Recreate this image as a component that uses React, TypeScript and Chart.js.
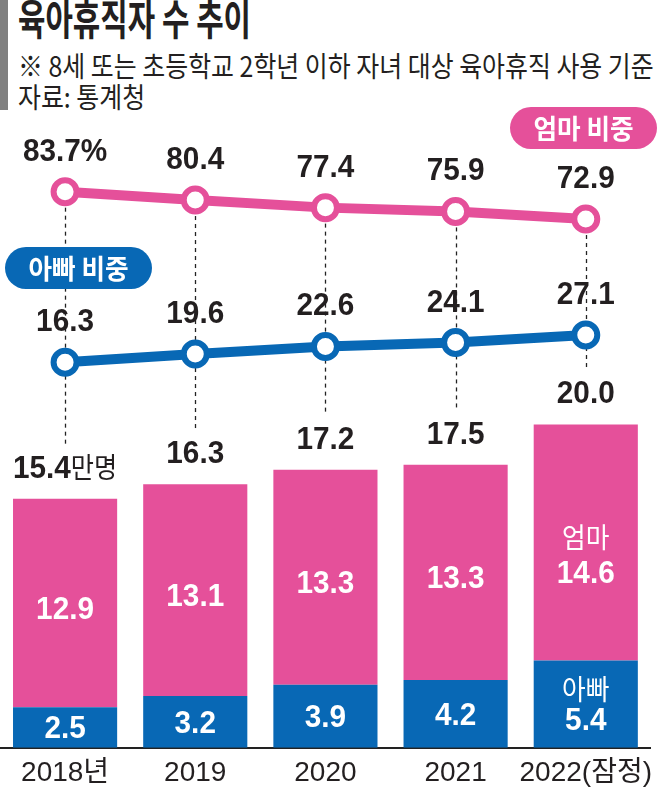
import React, { useEffect, useRef } from "react";
import { Chart, registerables } from "chart.js";

Chart.register(...registerables);

const years = ["2018년", "2019", "2020", "2021", "2022(잠정)"];
const momCount = [12.9, 13.1, 13.3, 13.3, 14.6];
const dadCount = [2.5, 3.2, 3.9, 4.2, 5.4];
const totalCount = [15.4, 16.3, 17.2, 17.5, 20.0];
const momShare = [83.7, 80.4, 77.4, 75.9, 72.9];
const dadShare = [16.3, 19.6, 22.6, 24.1, 27.1];

const PINK = "#e5509a";
const BLUE = "#0868b5";
const INK = "#231f20";
const NUM_FONT = "'Liberation Sans', 'Noto Sans CJK KR', sans-serif";
const KR_FONT = "'Noto Sans CJK KR', sans-serif";

function drawText(
  ctx: CanvasRenderingContext2D,
  text: string,
  x: number,
  y: number,
  font: string,
  color: string,
  sx = 1,
  baseline: CanvasTextBaseline = "alphabetic"
) {
  ctx.save();
  ctx.font = font;
  ctx.fillStyle = color;
  ctx.textAlign = "center";
  ctx.textBaseline = baseline;
  ctx.translate(x, y);
  ctx.scale(sx, 1);
  ctx.fillText(text, 0, 0);
  ctx.restore();
}

function pill(ctx: CanvasRenderingContext2D, x: number, y: number, w: number, h: number, color: string, text: string) {
  ctx.save();
  ctx.fillStyle = color;
  ctx.beginPath();
  ctx.roundRect(x, y, w, h, h / 2);
  ctx.fill();
  ctx.restore();
  drawText(ctx, text, x + w / 2, y + h / 2 + 1, `bold 27px ${KR_FONT}`, "#ffffff", 0.95, "middle");
}

const labelPlugin = {
  id: "customLabels",
  beforeDatasetsDraw(chart: any) {
    const ctx = chart.ctx as CanvasRenderingContext2D;
    const yScale = chart.scales.y;
    const momMeta = chart.getDatasetMeta(2);
    ctx.save();
    ctx.setLineDash([4, 4]);
    ctx.strokeStyle = "#222";
    ctx.lineWidth = 1.3;
    momMeta.data.forEach((pt: any, i: number) => {
      const endY = yScale.getPixelForValue(totalCount[i]) - 55;
      ctx.beginPath();
      ctx.moveTo(Math.round(pt.x) + 0.5, pt.y);
      ctx.lineTo(Math.round(pt.x) + 0.5, endY);
      ctx.stroke();
    });
    ctx.restore();
  },
  afterDatasetsDraw(chart: any) {
    const ctx = chart.ctx as CanvasRenderingContext2D;
    const yScale = chart.scales.y;
    const xScale = chart.scales.x;
    const numBold = `bold 32px ${NUM_FONT}`;
    const last = years.length - 1;

    const momMeta = chart.getDatasetMeta(2);
    const dadMeta = chart.getDatasetMeta(3);
    momMeta.data.forEach((pt: any, i: number) => {
      const t = momShare[i].toFixed(1) + (i === 0 ? "%" : "");
      drawText(ctx, t, pt.x, pt.y - 31, numBold, INK, 0.93);
    });
    dadMeta.data.forEach((pt: any, i: number) => {
      drawText(ctx, dadShare[i].toFixed(1), pt.x, pt.y - 31, numBold, INK, 0.93);
    });

    years.forEach((_, i) => {
      const cx = xScale.getPixelForValue(i);
      const top = yScale.getPixelForValue(totalCount[i]);
      const num = totalCount[i].toFixed(1);
      if (i === 0) {
        const unit = "만명";
        ctx.save();
        ctx.font = numBold;
        const w1 = ctx.measureText(num).width * 0.93;
        ctx.font = `28px ${KR_FONT}`;
        const w2 = ctx.measureText(unit).width * 0.9;
        ctx.restore();
        const left = cx - (w1 + w2) / 2;
        drawText(ctx, num, left + w1 / 2, top - 21, numBold, INK, 0.93);
        drawText(ctx, unit, left + w1 + w2 / 2, top - 21, `28px ${KR_FONT}`, INK, 0.9);
      } else {
        drawText(ctx, num, cx, top - 21, numBold, INK, 0.93);
      }

      const dadTop = yScale.getPixelForValue(dadCount[i]);
      const base = yScale.getPixelForValue(0);
      const momMid = (top + dadTop) / 2;
      const dadMid = (dadTop + base) / 2;
      if (i === last) {
        drawText(ctx, "엄마", cx, momMid - 5, `28px ${KR_FONT}`, "#fff", 0.92, "middle");
        drawText(ctx, momCount[i].toFixed(1), cx, momMid + 32, numBold, "#fff", 0.93, "middle");
        drawText(ctx, "아빠", cx, dadMid - 15, `28px ${KR_FONT}`, "#fff", 0.92, "middle");
        drawText(ctx, dadCount[i].toFixed(1), cx, dadMid + 17, numBold, "#fff", 0.93, "middle");
      } else {
        drawText(ctx, momCount[i].toFixed(1), cx, momMid + 7, numBold, "#fff", 0.93, "middle");
        drawText(ctx, dadCount[i].toFixed(1), cx, dadMid + 2, numBold, "#fff", 0.93, "middle");
      }
    });

    pill(ctx, 510, 107, 147, 42, PINK, "엄마 비중");
    pill(ctx, 5, 247, 147, 42, BLUE, "아빠 비중");
  },
};

export default function App() {
  const ref = useRef<HTMLCanvasElement | null>(null);

  useEffect(() => {
    if (!ref.current) return;
    const chart = new Chart(ref.current, {
      type: "bar",
      data: {
        labels: years,
        datasets: [
          {
            type: "bar",
            label: "아빠",
            data: dadCount,
            backgroundColor: BLUE,
            borderWidth: 0,
            yAxisID: "y",
            barPercentage: 0.8,
            categoryPercentage: 1,
            order: 2,
          },
          {
            type: "bar",
            label: "엄마",
            data: momCount,
            backgroundColor: PINK,
            borderWidth: 0,
            yAxisID: "y",
            barPercentage: 0.8,
            categoryPercentage: 1,
            order: 2,
          },
          {
            type: "line",
            label: "엄마 비중",
            data: momShare,
            yAxisID: "y2",
            borderColor: PINK,
            borderWidth: 10,
            pointRadius: 11.5,
            pointBorderWidth: 6,
            pointBackgroundColor: "#ffffff",
            pointBorderColor: PINK,
            tension: 0,
            order: 0,
          },
          {
            type: "line",
            label: "아빠 비중",
            data: dadShare,
            yAxisID: "y2",
            borderColor: BLUE,
            borderWidth: 10,
            pointRadius: 11.5,
            pointBorderWidth: 6,
            pointBackgroundColor: "#ffffff",
            pointBorderColor: BLUE,
            tension: 0,
            order: 0,
          },
        ] as any,
      },
      options: {
        responsive: false,
        animation: false,
        layout: { autoPadding: false, padding: { top: 100, bottom: -6.4, left: 0, right: 0 } },
        plugins: {
          legend: { display: false },
          tooltip: { enabled: false },
          title: { display: false },
        },
        scales: {
          x: {
            stacked: true,
            grid: { display: false, drawTicks: false, tickLength: 0 },
            border: { display: true, color: "#222", width: 2 },
            ticks: {
              color: INK,
              font: { family: NUM_FONT, size: 28 },
              padding: 9,
              maxRotation: 0,
              autoSkip: false,
            },
          },
          y: { display: false, stacked: true, min: 0, max: 40.06 },
          y2: { display: false, min: -135.9, max: 119.9 },
        },
      } as any,
      plugins: [labelPlugin],
    });
    return () => chart.destroy();
  }, []);

  return (
    <div
      style={{
        position: "absolute",
        left: 0,
        top: 0,
        width: 661,
        height: 793,
        background: "#fff",
        overflow: "hidden",
      }}
    >
      <div style={{ position: "absolute", left: 0, top: 0, width: 8, height: 110, background: "#808080" }} />
      <div
        style={{
          position: "absolute",
          left: 18,
          top: -4,
          fontFamily: KR_FONT,
          fontWeight: 700,
          fontSize: 42,
          lineHeight: "42px",
          color: INK,
          whiteSpace: "nowrap",
          transform: "scaleX(0.71)",
          transformOrigin: "left top",
        }}
      >
        육아휴직자 수 추이
      </div>
      <div
        style={{
          position: "absolute",
          left: 18,
          top: 51,
          fontFamily: KR_FONT,
          fontSize: 28,
          lineHeight: "28px",
          color: INK,
          whiteSpace: "nowrap",
          transform: "scaleX(0.89)",
          transformOrigin: "left top",
        }}
      >
        ※ 8세 또는 초등학교 2학년 이하 자녀 대상 육아휴직 사용 기준
      </div>
      <div
        style={{
          position: "absolute",
          left: 18,
          top: 82,
          fontFamily: KR_FONT,
          fontSize: 28,
          lineHeight: "28px",
          color: INK,
          whiteSpace: "nowrap",
          transform: "scaleX(0.89)",
          transformOrigin: "left top",
        }}
      >
        자료: 통계청
      </div>
      <canvas ref={ref} width={661} height={793} style={{ position: "absolute", left: 0, top: 0 }} />
    </div>
  );
}
